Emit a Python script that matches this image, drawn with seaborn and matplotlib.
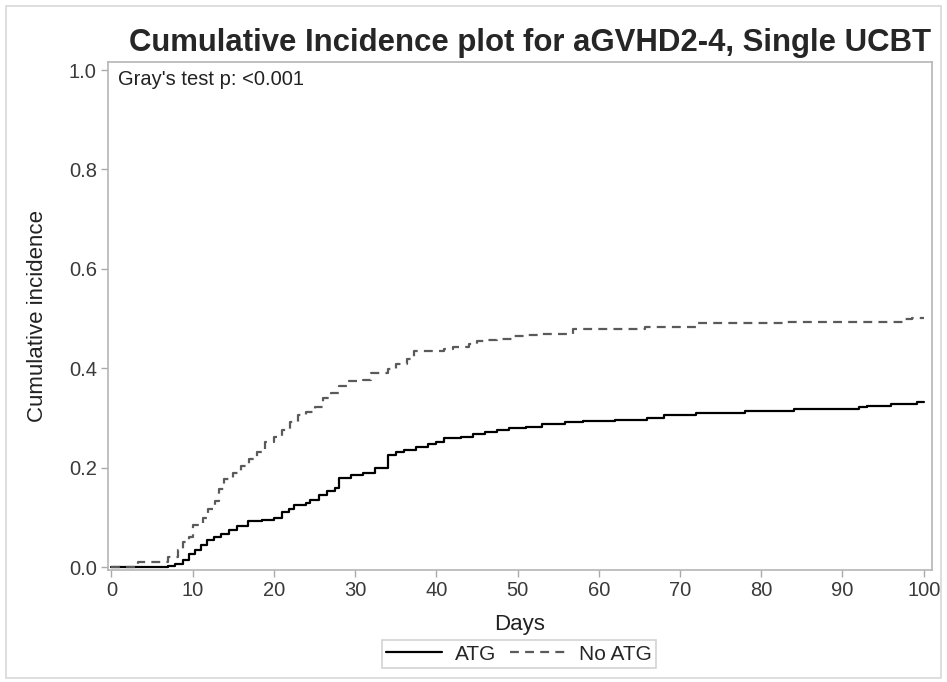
import pandas as pd
import matplotlib.pyplot as plt
import seaborn as sns
from matplotlib.patches import Rectangle
from matplotlib.lines import Line2D

# step points (day, cumulative incidence)
atg_days = [0, 7.0, 7.8, 8.8, 9.5, 10.3, 11, 11.8, 12.6, 13.5, 14.5, 15.5, 16.8, 18.5,
            20, 21, 21.8, 22.5, 24, 24.5, 25.5, 26.5, 27.5, 28, 29.5, 31, 32.5, 34, 35,
            36, 37.5, 39, 40, 41, 43, 44.5, 46, 47.5, 49, 51, 53, 55.8, 58, 62, 65.9,
            68, 72, 78, 84, 92, 93, 96, 99.2, 100]
atg_ci = [0, 0.003, 0.007, 0.015, 0.027, 0.035, 0.044, 0.055, 0.061, 0.067, 0.075, 0.082,
          0.092, 0.095, 0.099, 0.11, 0.116, 0.126, 0.13, 0.136, 0.146, 0.153, 0.16, 0.18,
          0.185, 0.19, 0.2, 0.225, 0.231, 0.236, 0.241, 0.248, 0.252, 0.259, 0.262, 0.268,
          0.272, 0.276, 0.279, 0.282, 0.288, 0.292, 0.294, 0.297, 0.301, 0.306, 0.31,
          0.314, 0.318, 0.323, 0.325, 0.328, 0.332, 0.332]

noatg_days = [0, 3.3, 7.0, 8.2, 8.8, 9.5, 10, 11.3, 11.9, 12.7, 13.2, 13.8, 15, 16, 16.9,
              17.9, 18.9, 20, 21, 22, 23, 24, 25, 26, 27, 28, 29, 31, 32, 34, 35, 36.4,
              37.3, 41, 42, 44, 45, 46, 47.5, 49.5, 51, 52.5, 56.8, 65.7, 72, 83, 97.7,
              98.5, 100]
noatg_ci = [0, 0.01, 0.02, 0.034, 0.051, 0.061, 0.085, 0.099, 0.116, 0.133, 0.157, 0.177,
            0.19, 0.204, 0.218, 0.231, 0.252, 0.262, 0.276, 0.293, 0.306, 0.313, 0.323,
            0.34, 0.35, 0.364, 0.374, 0.377, 0.391, 0.398, 0.408, 0.418, 0.435, 0.438,
            0.443, 0.449, 0.454, 0.456, 0.458, 0.464, 0.467, 0.47, 0.48, 0.484, 0.492,
            0.494, 0.5, 0.502, 0.502]

x_ticks = [0, 10, 20, 30, 40, 50, 60, 70, 80, 90, 100]
y_ticks = [0.0, 0.2, 0.4, 0.6, 0.8, 1.0]

df_atg = pd.DataFrame({'Days': atg_days, 'CI': atg_ci})
df_noatg = pd.DataFrame({'Days': noatg_days, 'CI': noatg_ci})

sns.set_style("white")
plt.rcParams['font.family'] = ['Liberation Sans', 'DejaVu Sans']

dash = (0, (4.0, 2.8))
fig = plt.figure(figsize=(9.47, 6.82), dpi=100)
ax = fig.add_axes([0.114, 0.164, 0.870, 0.745])

sns.lineplot(data=df_atg, x='Days', y='CI', ax=ax, color='black', linewidth=1.6,
             drawstyle='steps-post', estimator=None, sort=False)
sns.lineplot(data=df_noatg, x='Days', y='CI', ax=ax, color='#5a5a5a', linewidth=1.6,
             drawstyle='steps-post', estimator=None, sort=False, linestyle=dash)

ax.set_xlim(-0.43, 101.0)
ax.set_ylim(-0.006, 1.016)
ax.set_xticks(x_ticks)
ax.set_yticks(y_ticks)
ax.set_xticklabels([str(t) for t in x_ticks])
ax.set_yticklabels([f"{t:.1f}" for t in y_ticks])
ax.tick_params(axis='both', labelsize=14.5, labelcolor='#3a3a3a', color='#aaaaaa',
               length=5, width=1, direction='out', bottom=True, left=True, pad=3)
for sp in ax.spines.values():
    sp.set_color('#b5b5b5')
    sp.set_linewidth(1.2)

ax.set_xlabel('Days', fontsize=16, color='#222222', labelpad=10)
ax.set_ylabel('Cumulative incidence', fontsize=16, color='#222222', labelpad=15)
ax.set_title('Cumulative Incidence plot for aGVHD2-4, Single UCBT', fontsize=22.4,
             fontweight='bold', pad=8, x=0.512)

ax.text(0.012, 0.985, "Gray's test p: <0.001", transform=ax.transAxes, fontsize=14.5,
        color='#222222', va='top', ha='left')

handles = [Line2D([], [], color='black', linewidth=1.6),
           Line2D([], [], color='#5a5a5a', linewidth=1.6, linestyle=dash)]
leg = fig.legend(handles, ['ATG', 'No ATG'], loc='center', ncol=2,
                 bbox_to_anchor=(0.548, 1 - 654 / 682), fontsize=15, frameon=True,
                 fancybox=False, handlelength=2.7, columnspacing=0.7, handletextpad=0.6,
                 borderpad=0.2, borderaxespad=0, edgecolor='#c8c8c8')
leg.get_frame().set_linewidth(1.2)

fig.patches.append(Rectangle((0.006, 0.006), 0.988, 0.985, transform=fig.transFigure,
                             fill=False, edgecolor='#d8d8d8', linewidth=1.2))

fig.savefig('out.png', dpi=100)
